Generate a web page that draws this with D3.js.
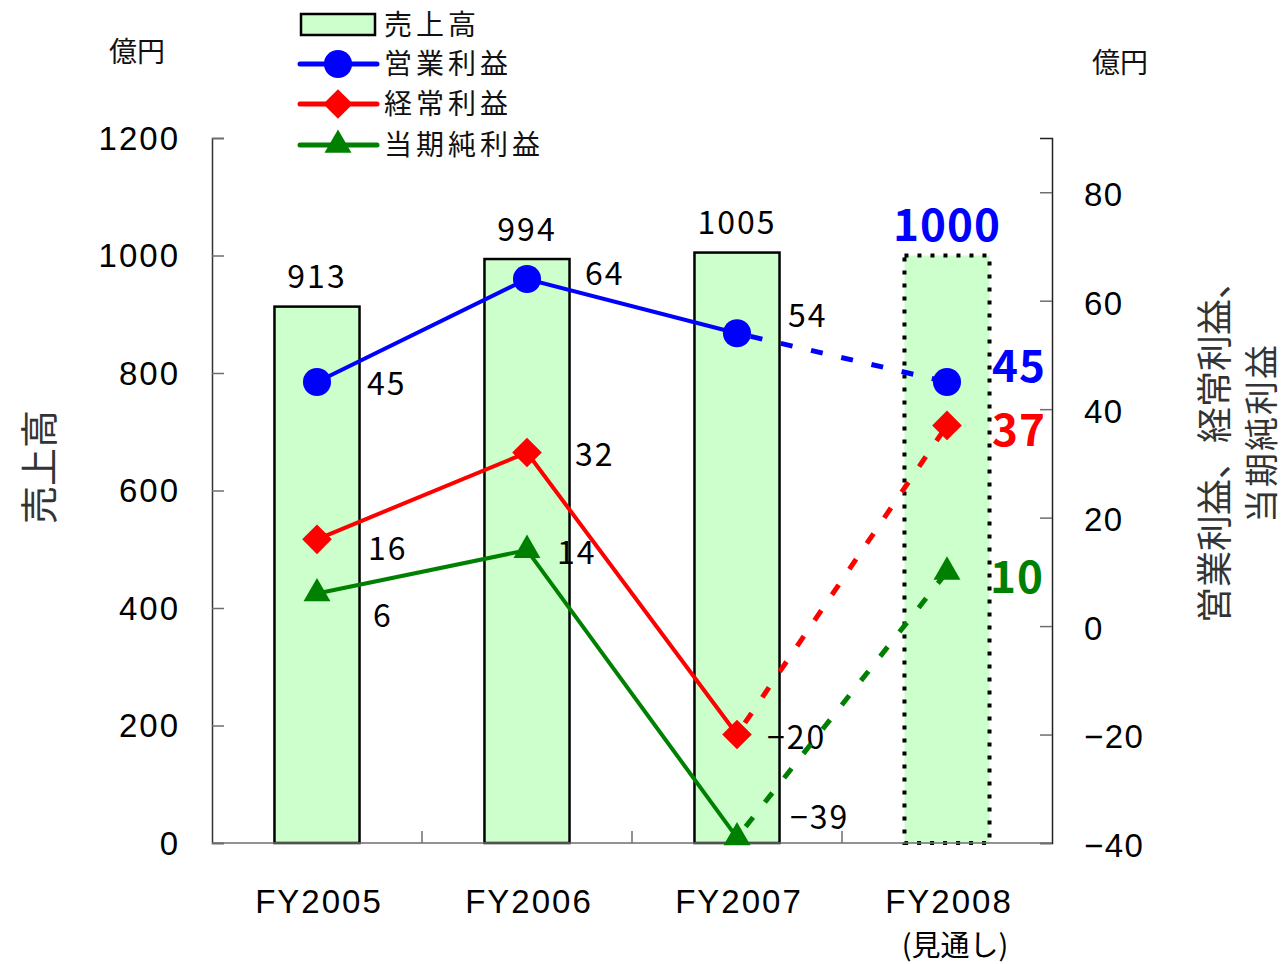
<!DOCTYPE html>
<html><head><meta charset="utf-8">
<script src="https://cdn.jsdelivr.net/npm/d3@7"></script>
<style>
html,body{margin:0;padding:0;background:#fff;}
text{font-family:"Liberation Sans",Arial,sans-serif;}
.jp{font-family:"Noto Sans CJK JP","Noto Sans",sans-serif;}
</style></head>
<body>
<svg id="c" width="1285" height="964"></svg>
<script>
const categories = ["FY2005","FY2006","FY2007","FY2008"];
const subLabels = ["","","","(見通し)"];
const sales = [913, 994, 1005, 1000];
const forecastIndex = 3;
const operatingProfit = [45, 64, 54, 45];
const ordinaryProfit = [16, 32, -20, 37];
const netProfit = [6, 14, -39, 10];
const leftTicks = [0,200,400,600,800,1000,1200];
const rightTicks = [-40,-20,0,20,40,60,80];
const legendNames = ["売上高","営業利益","経常利益","当期純利益"];

const svg = d3.select("#c");
const L = 212, R = 1052, T = 138, B = 843;
const x = d3.scaleBand().domain(categories).range([L,R]).paddingInner(0.595).paddingOuter(0.2975);
const cx = d => x(d) + x.bandwidth()/2;
const yL = d3.scaleLinear().domain([0,1200]).range([B,T]);
const yR = d3.scaleLinear().domain([-40,90]).range([B,T]);
const fmt = v => String(v).replace("-", "\u2212");

// bars
svg.append("g").selectAll("rect").data(sales).join("rect")
  .attr("x",(d,i)=>x(categories[i]))
  .attr("y",d=>yL(d))
  .attr("width",x.bandwidth())
  .attr("height",d=>B-yL(d))
  .attr("fill","#ccffcc")
  .attr("stroke","#000")
  .attr("stroke-width",(d,i)=>i===forecastIndex?4:2.5)
  .attr("stroke-dasharray",(d,i)=>i===forecastIndex?"4,9":null);

// axes
const axCol = "#6e6e6e";
const gL = svg.append("g").attr("transform",`translate(${L},0)`)
  .call(d3.axisRight(yL).tickValues(leftTicks).tickSize(12).tickFormat(""));
gL.selectAll("path,line").attr("stroke",axCol).attr("stroke-width",1.5);
gL.select(".domain").attr("stroke","#333");
const gR = svg.append("g").attr("transform",`translate(${R},0)`)
  .call(d3.axisLeft(yR).tickValues(rightTicks).tickSize(12).tickFormat(""));
gR.selectAll("path,line").attr("stroke",axCol).attr("stroke-width",1.5);
gR.select(".domain").attr("stroke","#222");
// bottom
svg.append("line").attr("x1",L).attr("x2",R).attr("y1",B).attr("y2",B).attr("stroke",axCol).attr("stroke-width",1.5);
const bounds = categories.slice(1).map(c=>x(c) - x.step()*x.paddingInner()/2);
svg.append("g").selectAll("line").data(bounds).join("line")
  .attr("x1",d=>d).attr("x2",d=>d).attr("y1",B).attr("y2",B-12)
  .attr("stroke",axCol).attr("stroke-width",1.5);

// tick labels
svg.append("g").selectAll("text").data(leftTicks).join("text")
  .attr("x",180).attr("y",d=>yL(d)).attr("dy","0.36em")
  .attr("text-anchor","end").attr("font-size",33).attr("letter-spacing",2).text(d=>d);
svg.append("g").selectAll("text").data(rightTicks).join("text")
  .attr("x",1084).attr("y",d=>yR(d)+2).attr("dy","0.36em")
  .attr("text-anchor","start").attr("font-size",33).attr("letter-spacing",1.5).text(d=>fmt(d));
svg.append("g").selectAll("text").data(categories).join("text")
  .attr("x",d=>cx(d)+2).attr("y",913)
  .attr("text-anchor","middle").attr("font-size",33).attr("letter-spacing",2).text(d=>d);
svg.append("g").selectAll("text").data(subLabels).join("text")
  .attr("class","jp")
  .attr("x",(d,i)=>cx(categories[i])+8).attr("y",956)
  .attr("text-anchor","middle").attr("font-size",29).text(d=>d);

// units and titles
svg.append("text").attr("class","jp").attr("x",137).attr("y",62).attr("text-anchor","middle").attr("font-size",28).attr("fill","#111").text("億円");
svg.append("text").attr("class","jp").attr("x",1120).attr("y",73).attr("text-anchor","middle").attr("font-size",28).attr("fill","#111").text("億円");
svg.append("text").attr("class","jp").attr("transform","translate(53,467) rotate(-90)")
  .attr("text-anchor","middle").attr("font-size",38).attr("fill","#333").text("売上高");
svg.append("text").attr("class","jp").attr("transform","translate(1228,443) rotate(-90)")
  .attr("text-anchor","middle").attr("font-size",36).attr("fill","#333").text("営業利益、経常利益、");
svg.append("text").attr("class","jp").attr("transform","translate(1274,433) rotate(-90)")
  .attr("text-anchor","middle").attr("font-size",34).attr("letter-spacing",2).attr("fill","#333").text("当期純利益");

// series
const series = [
  {vals:operatingProfit, color:"#0000ff", sym:d3.symbolCircle, size:620, off:[[50,1],[58,-6],[51,-18],[45,-16]]},
  {vals:ordinaryProfit, color:"#ff0000", sym:d3.symbolDiamond2, size:560, off:[[51,9],[48,2],[30,3],[45,5]]},
  {vals:netProfit, color:"#008000", sym:d3.symbolTriangle2, size:520, off:[[56,22],[30,2],[53,-20],[43,5]]}
];
const line = d3.line().x(d=>d[0]).y(d=>d[1]);
series.forEach(s=>{
  const pts = s.vals.map((v,i)=>[cx(categories[i]), yR(v)]);
  svg.append("path").attr("d",line(pts.slice(0,forecastIndex))).attr("fill","none")
    .attr("stroke",s.color).attr("stroke-width",4);
  svg.append("path").attr("d",line(pts.slice(forecastIndex-1))).attr("fill","none")
    .attr("stroke",s.color).attr("stroke-width",5).attr("stroke-dasharray","12,19").attr("stroke-dashoffset",-14);
  svg.append("g").selectAll("path").data(pts).join("path")
    .attr("transform",d=>`translate(${d[0]},${d[1]})`)
    .attr("d",d3.symbol().type(s.sym).size(s.size)).attr("fill",s.color);
  svg.append("g").selectAll("text").data(s.vals).join("text")
    .attr("class","jp")
    .attr("x",(d,i)=>pts[i][0]+s.off[i][0]).attr("y",(d,i)=>pts[i][1]+s.off[i][1]).attr("dy","0.36em")
    .attr("font-size",(d,i)=>i===forecastIndex?44:32)
    .attr("font-weight",(d,i)=>i===forecastIndex?"bold":"normal")
    .attr("letter-spacing",(d,i)=>i===forecastIndex?1:2)
    .attr("fill",(d,i)=>i===forecastIndex?s.color:"#000")
    .text(d=>fmt(d));
});

// sales labels
svg.append("g").selectAll("text").data(sales).join("text")
  .attr("class","jp")
  .attr("x",(d,i)=>cx(categories[i])).attr("y",(d,i)=>yL(d)-30).attr("dy","0.36em")
  .attr("text-anchor","middle")
  .attr("font-size",(d,i)=>i===forecastIndex?44:32)
  .attr("font-weight",(d,i)=>i===forecastIndex?"bold":"normal")
  .attr("letter-spacing",(d,i)=>i===forecastIndex?1:2)
  .attr("fill",(d,i)=>i===forecastIndex?"#0000ff":"#000")
  .text(d=>d);

// legend
const lg = svg.append("g");
lg.append("rect").attr("x",301).attr("y",14).attr("width",74).attr("height",21)
  .attr("fill","#ccffcc").attr("stroke","#000").attr("stroke-width",2.5);
const lgRows = [64,104,145];
series.forEach((s,i)=>{
  lg.append("line").attr("x1",300).attr("x2",377).attr("y1",lgRows[i]).attr("y2",lgRows[i])
    .attr("stroke",s.color).attr("stroke-width",5).attr("stroke-linecap","round");
  lg.append("path").attr("transform",`translate(338,${lgRows[i]})`)
    .attr("d",d3.symbol().type(s.sym).size(s.size)).attr("fill",s.color);
});
lg.selectAll("text").data(legendNames).join("text")
  .attr("class","jp").attr("x",384).attr("y",(d,i)=>[25,64,104,145][i]).attr("dy","0.36em")
  .attr("font-size",28).attr("letter-spacing",4).attr("fill","#111").text(d=>d);
</script>
</body></html>
